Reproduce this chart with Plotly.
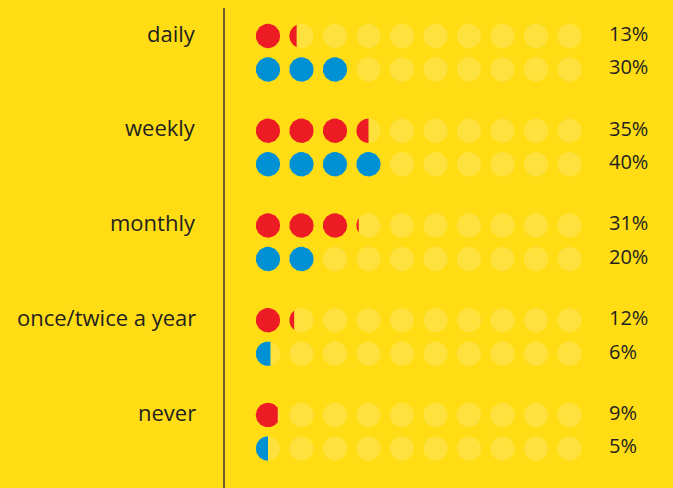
import numpy as np
import plotly.graph_objects as go

categories = ["daily", "weekly", "monthly", "once/twice a year", "never"]
red_values = [13, 35, 31, 12, 9]
blue_values = [30, 40, 20, 6, 5]

W, H = 673, 488
UNIT = 33.5  # pixels per data unit (one dot step)
R = 12.2 / UNIT
N_DOTS = 10
PER_DOT = 10

BG = "#FFDC14"
EMPTY = "#FFE13E"
RED = "#ED1C24"
BLUE = "#0090D4"
TXT = "#231F20"
FONT = "Open Sans"

x0 = -268.0 / UNIT
y_top = -36.0 / UNIT
GROUP_STEP = 94.75 / UNIT
ROW_STEP = 33.5 / UNIT


def circle_pts(cx, cy, frac=1.0, n=64):
    if frac >= 1.0:
        t = np.linspace(0, 2 * np.pi, n)
    else:
        cut = cx - R + frac * 2 * R
        th0 = np.arccos(np.clip((cut - cx) / R, -1, 1))
        t = np.linspace(th0, 2 * np.pi - th0, n)
    xs = list(cx + R * np.cos(t)) + [None]
    ys = list(cy + R * np.sin(t)) + [None]
    return xs, ys


def dots_for(value, cy):
    xs, ys = [], []
    full = value // PER_DOT
    rem = (value % PER_DOT) / PER_DOT
    for i in range(full):
        a, b = circle_pts(i, cy)
        xs += a
        ys += b
    if rem > 0:
        a, b = circle_pts(full, cy, rem)
        xs += a
        ys += b
    return xs, ys


fig = go.Figure()

ex, ey, rx, ry, bx, by = [], [], [], [], [], []
annotations = []
for g, cat in enumerate(categories):
    yr = g * GROUP_STEP
    yb = yr + ROW_STEP
    for cy in (yr, yb):
        for i in range(N_DOTS):
            a, b = circle_pts(i, cy)
            ex += a
            ey += b
    a, b = dots_for(red_values[g], yr)
    rx += a
    ry += b
    a, b = dots_for(blue_values[g], yb)
    bx += a
    by += b
    annotations.append(dict(x=198 / W, xref="paper", y=yr - 0.1, yref="y", text=cat,
                            xanchor="right", yanchor="middle", showarrow=False,
                            font=dict(size=22, color=TXT, family=FONT)))
    annotations.append(dict(x=607 / W, xref="paper", y=yr - 0.08, yref="y",
                            text=f"{red_values[g]}%", xanchor="left", yanchor="middle",
                            showarrow=False, font=dict(size=20, color=TXT, family=FONT)))
    annotations.append(dict(x=607 / W, xref="paper", y=yb - 0.08, yref="y",
                            text=f"{blue_values[g]}%", xanchor="left", yanchor="middle",
                            showarrow=False, font=dict(size=20, color=TXT, family=FONT)))

for xs, ys, col in ((ex, ey, EMPTY), (rx, ry, RED), (bx, by, BLUE)):
    fig.add_trace(go.Scatter(x=xs, y=ys, mode="lines", fill="toself", fillcolor=col,
                             line=dict(width=0, color=col), hoverinfo="skip",
                             showlegend=False))

fig.update_layout(
    width=W, height=H,
    margin=dict(l=0, r=0, t=0, b=0),
    paper_bgcolor=BG, plot_bgcolor=BG,
    xaxis=dict(range=[x0, x0 + W / UNIT], visible=False, fixedrange=True),
    yaxis=dict(range=[y_top + H / UNIT, y_top], visible=False, fixedrange=True),
    annotations=annotations,
    shapes=[dict(type="line", xref="paper", yref="paper", x0=224 / W, x1=224 / W,
                 y0=0, y1=1 - 8 / H, line=dict(color="#3A3633", width=1.5))],
)

fig.write_html(
    "out.html",
    config={"displayModeBar": False},
    post_script="document.body.style.margin='0';document.body.style.padding='0';"
                "document.body.style.overflow='hidden';"
                "document.documentElement.style.background='" + BG + "';",
)
